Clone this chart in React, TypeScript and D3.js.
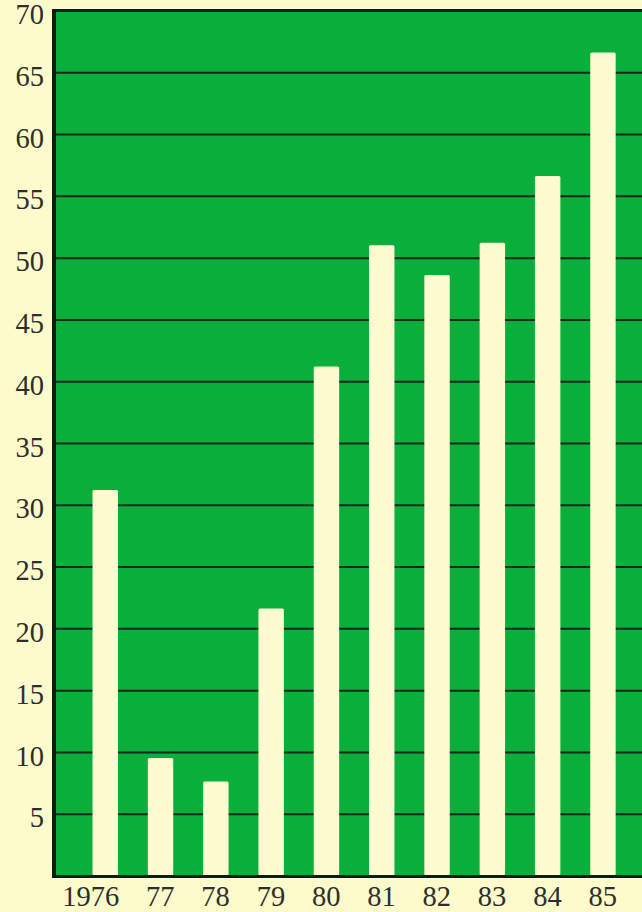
import React, { useEffect, useRef } from 'react';
import * as d3 from 'd3';

const years = ['1976', '77', '78', '79', '80', '81', '82', '83', '84', '85'];
const values = [31.2, 9.5, 7.6, 21.6, 41.2, 51.0, 48.6, 51.2, 56.6, 66.6];
const yTicks = [5, 10, 15, 20, 25, 30, 35, 40, 45, 50, 55, 60, 65, 70];

const W = 642;
const H = 912;

const App = () => {
  const ref = useRef<SVGSVGElement>(null);

  useEffect(() => {
    const svg = d3.select(ref.current);
    svg.selectAll('*').remove();

    const left = 54;
    const top = 10.5;
    const bottom = 875.5;

    const yScale = d3.scaleLinear().domain([0, 70]).range([bottom, top]);

    const xScale = d3.scaleBand<string>()
      .domain(years)
      .range([77.6, 630.6])
      .paddingInner(0.54)
      .paddingOuter(0.27);

    // paper
    svg.append('rect')
      .attr('width', W)
      .attr('height', H)
      .style('fill', '#fdfbcb');

    // green plot area
    svg.append('rect')
      .attr('x', left)
      .attr('y', top)
      .attr('width', W - left + 20)
      .attr('height', bottom - top)
      .style('fill', '#0aae3b');

    // gridlines + y labels
    const yAxis = svg.append('g')
      .attr('transform', `translate(${left}, 0)`)
      .call(d3.axisLeft(yScale).tickValues(yTicks).tickSize(-(W - left)).tickPadding(10));

    yAxis.select('.domain').remove();
    yAxis.selectAll('.tick line')
      .style('stroke', '#10291a')
      .style('stroke-width', 2);
    yAxis.selectAll('.tick text')
      .attr('dy', '0.46em')
      .style('font-family', '"Liberation Serif", "DejaVu Serif", serif')
      .style('font-size', '28.5px')
      .style('fill', '#2e2e2a');

    // bars
    svg.selectAll('.bar')
      .data(values)
      .enter().append('rect')
      .attr('class', 'bar')
      .attr('x', (d, i) => xScale(years[i]) as number)
      .attr('y', d => yScale(d))
      .attr('width', xScale.bandwidth())
      .attr('height', d => bottom - yScale(d))
      .attr('rx', 1.5)
      .style('fill', '#fcfcd0');

    // frame
    svg.append('line')
      .attr('x1', left).attr('x2', W)
      .attr('y1', top).attr('y2', top)
      .style('stroke', '#0b1f12').style('stroke-width', 3);
    svg.append('line')
      .attr('x1', left).attr('x2', W)
      .attr('y1', bottom + 1).attr('y2', bottom + 1)
      .style('stroke', '#0b1f12').style('stroke-width', 3);
    svg.append('line')
      .attr('x1', left).attr('x2', left)
      .attr('y1', top - 1.5).attr('y2', bottom + 2.5)
      .style('stroke', '#0b1f12').style('stroke-width', 4);

    // x labels: the two trailing digits sit under the bar
    svg.selectAll('.xlabel')
      .data(years)
      .enter().append('text')
      .attr('class', 'xlabel')
      .attr('x', d => (xScale(d) as number) + xScale.bandwidth() / 2 + 14)
      .attr('y', 906)
      .attr('text-anchor', 'end')
      .text(d => d)
      .style('font-family', '"Liberation Serif", "DejaVu Serif", serif')
      .style('font-size', '28.5px')
      .style('fill', '#2e2e2a');
  }, []);

  return (
    <svg
      ref={ref}
      width={W}
      height={H}
      style={{ position: 'absolute', left: 0, top: 0, display: 'block' }}
    ></svg>
  );
};

export default App;
